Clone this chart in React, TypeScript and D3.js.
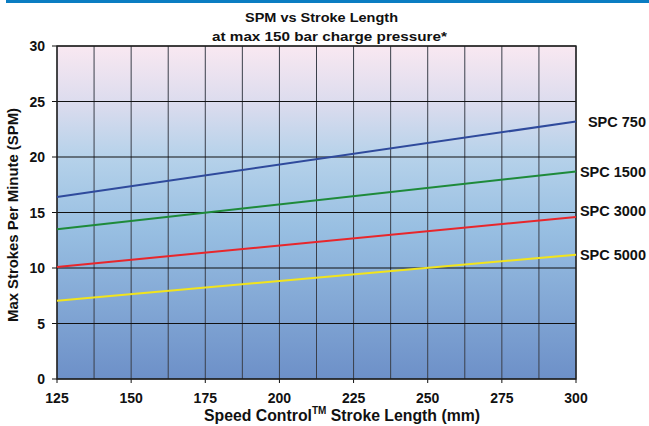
import * as d3 from 'd3';
import React from 'react';

const strokeLengths = [125, 300];
const series = [
  { name: 'SPC 750', color: '#2f4a9c', values: [16.4, 23.2] },
  { name: 'SPC 1500', color: '#1e8a3a', values: [13.5, 18.7] },
  { name: 'SPC 3000', color: '#e8262b', values: [10.1, 14.6] },
  { name: 'SPC 5000', color: '#f2e41c', values: [7.05, 11.2] },
];
const xTicks = [125, 150, 175, 200, 225, 250, 275, 300];
const xGrid = d3.range(125, 300.1, 12.5);
const yTicks = [0, 5, 10, 15, 20, 25, 30];

const W = 649;
const H = 426;
const left = 57;
const right = 576;
const top = 46;
const bottom = 379;

const App: React.FC = () => {
  const x = d3.scaleLinear().domain([125, 300]).range([left, right]);
  const y = d3.scaleLinear().domain([0, 30]).range([bottom, top]);

  const line = d3.line<number>()
    .x((_, i) => x(strokeLengths[i]))
    .y(d => y(d));

  const font = 'Arial, "Liberation Sans", sans-serif';

  return (
    <svg width={W} height={H} style={{ position: 'absolute', left: 0, top: 0 }}>
      <defs>
        <linearGradient id="bg" x1="0" y1="0" x2="0" y2="1">
          <stop offset="0%" stopColor="#f9e8f1" />
          <stop offset="17%" stopColor="#dcdcee" />
          <stop offset="33%" stopColor="#b6d2ea" />
          <stop offset="55%" stopColor="#98bfe2" />
          <stop offset="100%" stopColor="#6d90c8" />
        </linearGradient>
      </defs>
      <rect x={6} y={0} width={W - 6} height={3} fill="#0a7dc2" />
      <rect x={left} y={top} width={right - left} height={bottom - top} fill="url(#bg)" />

      {xGrid.map(v => (
        <line key={'vx' + v} x1={x(v)} x2={x(v)} y1={top} y2={bottom} stroke="#3a3f4a" strokeWidth={1} />
      ))}
      {yTicks.map(v => (
        <line key={'hy' + v} x1={left - 5} x2={right} y1={y(v)} y2={y(v)} stroke="#111" strokeWidth={1.2} />
      ))}
      {xTicks.map(v => (
        <line key={'tx' + v} x1={x(v)} x2={x(v)} y1={bottom} y2={bottom + 4} stroke="#111" strokeWidth={1} />
      ))}
      <rect x={left} y={top} width={right - left} height={bottom - top} fill="none" stroke="#222" strokeWidth={1.4} />

      {series.map(s => (
        <path key={s.name} d={line(s.values) || ''} fill="none" stroke={s.color} strokeWidth={2} />
      ))}

      {series.map(s => (
        <text
          key={'l' + s.name}
          x={646}
          y={y(s.values[1]) + (s.name === 'SPC 3000' ? -6 : 0)}
          dy="0.36em"
          textAnchor="end"
          fontFamily={font}
          fontSize={14.5}
          fontWeight="bold"
          fill="#111"
        >
          {s.name}
        </text>
      ))}

      {yTicks.map(v => (
        <text key={'yl' + v} x={left - 12} y={y(v)} dy="0.36em" textAnchor="end" fontFamily={font} fontSize={14} fontWeight="bold" fill="#111">
          {v}
        </text>
      ))}
      {xTicks.map(v => (
        <text key={'xl' + v} x={x(v)} y={403} textAnchor="middle" fontFamily={font} fontSize={14} fontWeight="bold" fill="#111">
          {v}
        </text>
      ))}

      <text x={321.5} y={21.5} textAnchor="middle" fontFamily={font} fontSize={13.5} fontWeight="bold" fill="#111"
        textLength={153} lengthAdjust="spacingAndGlyphs">
        SPM vs Stroke Length
      </text>
      <text x={329.5} y={40.5} textAnchor="middle" fontFamily={font} fontSize={13.5} fontWeight="bold" fill="#111"
        textLength={235} lengthAdjust="spacingAndGlyphs">
        at max 150 bar charge pressure*
      </text>

      <text x={204} y={421} fontFamily={font} fontSize={15.8} fontWeight="bold" fill="#111">
        Speed Control
        <tspan fontSize={10} dy={-7}>TM</tspan>
        <tspan dy={7}> Stroke Length (mm)</tspan>
      </text>

      <text
        transform="translate(18,215) rotate(-90)"
        textAnchor="middle"
        fontFamily={font}
        fontSize={14}
        fontWeight="bold"
        fill="#111"
        textLength={214}
        lengthAdjust="spacingAndGlyphs"
      >
        Max Strokes Per Minute (SPM)
      </text>
    </svg>
  );
};

export default App;
